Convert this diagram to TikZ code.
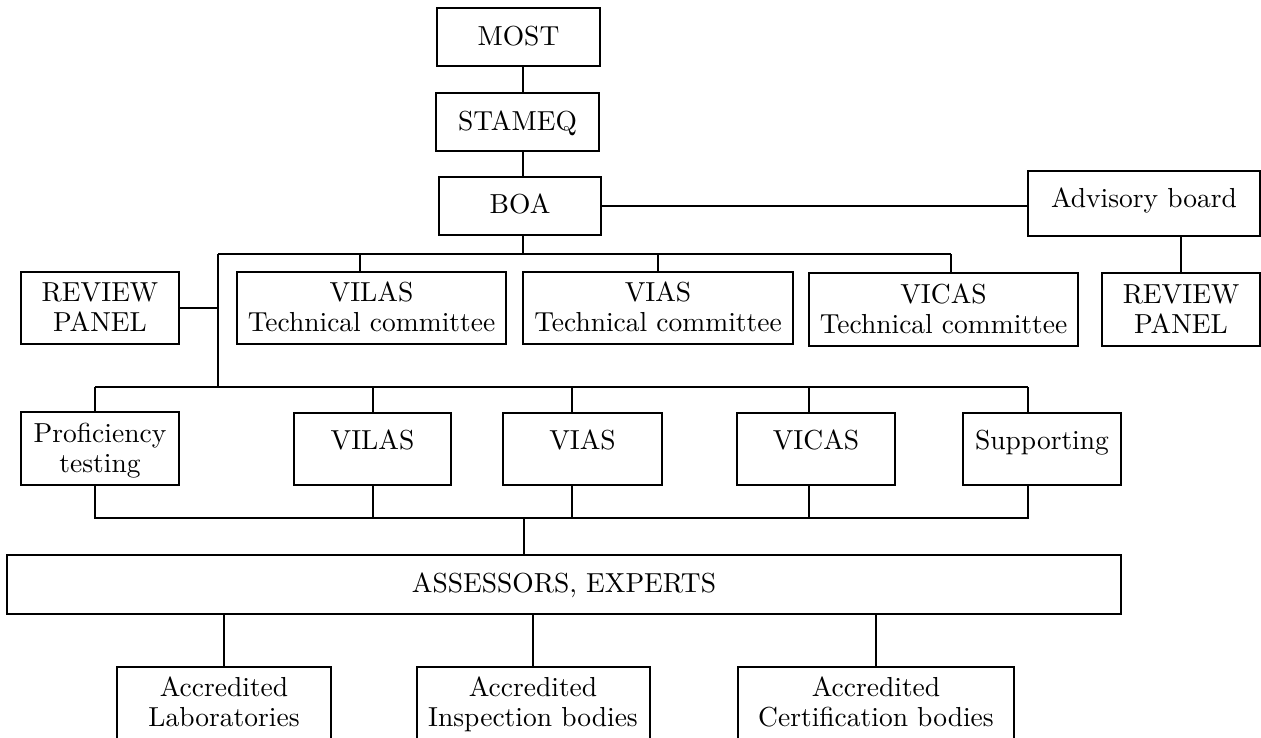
\documentclass[tikz,border=0pt]{standalone}
\usepackage{fontspec}
\setmainfont{lmroman10-regular}[Extension=.otf]
\newcommand\mystrut{\rule[-6.3pt]{0pt}{30pt}}
\newcommand\up[2]{\raisebox{#1}[0pt][0pt]{#2}\mystrut}
\tikzset{
  box/.style={draw, line width=2pt, inner sep=0pt, align=center,
              font=\fontsize{27.5}{30}\selectfont},
  conn/.style={line width=1.5pt},
}
\begin{document}
\begin{tikzpicture}[x=1pt,y=-1pt]
\useasboundingbox (0,0) rectangle (1261,737);
\clip (0,0) rectangle (1261,737);

% top chain
\node[box, minimum width=163pt, minimum height=58pt] (most) at (518.5,37) {\up{0pt}{MOST}};
\node[box, minimum width=163pt, minimum height=58pt] (stameq) at (517.5,122) {\up{0.7pt}{STAMEQ}};
\node[box, minimum width=162pt, minimum height=58pt] (boa) at (520,206) {\up{1.4pt}{BOA}};
\node[box, minimum width=232pt, minimum height=65pt] (adv) at (1144,203.5) {\up{5pt}{Advisory board}};

% row 2
\node[box, minimum width=158pt, minimum height=72pt] (rpl) at (100,308) {\mystrut REVIEW\\\mystrut PANEL};
\node[box, minimum width=269pt, minimum height=72pt] (vilastc) at (371.5,308) {\mystrut VILAS\\\mystrut Technical committee};
\node[box, minimum width=270pt, minimum height=72pt] (viastc) at (658,308) {\mystrut VIAS\\\mystrut Technical committee};
\node[box, minimum width=269pt, minimum height=73pt] (vicastc) at (943.5,309.5) {\mystrut VICAS\\\mystrut Technical committee};
\node[box, minimum width=158pt, minimum height=73pt] (rpr) at (1181,309.5) {\mystrut REVIEW\\\mystrut PANEL};

% row 3
\node[box, minimum width=158pt, minimum height=73pt] (prof) at (100,448.5) {\mystrut Proficiency\\\mystrut testing};
\node[box, minimum width=157pt, minimum height=72pt] (vilas) at (372.5,449) {\up{8pt}{VILAS}};
\node[box, minimum width=159pt, minimum height=72pt] (vias) at (582.5,449) {\up{8pt}{VIAS}};
\node[box, minimum width=158pt, minimum height=72pt] (vicas) at (816,449) {\up{8pt}{VICAS}};
\node[box, minimum width=158pt, minimum height=72pt] (supp) at (1042,449) {\up{8pt}{Supporting}};

% assessors
\node[box, minimum width=1114pt, minimum height=59pt] (assess) at (564,584.5) {\up{1.2pt}{ASSESSORS, EXPERTS}};

% bottom
\node[box, minimum width=214pt, minimum height=80pt] (lab) at (224,707) {\up{4.7pt}{Accredited}\\\up{4.7pt}{Laboratories}};
\node[box, minimum width=233pt, minimum height=80pt] (insp) at (533,707) {\up{4.7pt}{Accredited}\\\up{4.7pt}{Inspection bodies}};
\node[box, minimum width=276pt, minimum height=80pt] (cert) at (876,707) {\up{4.7pt}{Accredited}\\\up{4.7pt}{Certification bodies}};

% coordinates
\coordinate (cx) at (523,0);
\coordinate (t0) at (523,254);
\coordinate (tL) at (218,254);
\coordinate (tR) at (951,254);
\coordinate (d1) at (360,254);
\coordinate (d2) at (658,254);
\coordinate (m0) at (218,387);
\coordinate (mL) at (95,387);
\coordinate (mR) at (1028,387);
\coordinate (m1) at (373,387);
\coordinate (m2) at (572,387);
\coordinate (m3) at (809,387);
\coordinate (bL) at (95,518);
\coordinate (bR) at (1028,518);
\coordinate (b1) at (373,518);
\coordinate (b2) at (572,518);
\coordinate (b3) at (809,518);
\coordinate (bA) at (524,518);

% connectors
\draw[conn] (most.south -| cx) -- (stameq.north -| cx);
\draw[conn] (stameq.south -| cx) -- (boa.north -| cx);
\draw[conn] (boa.south -| t0) -- (t0);
\draw[conn] (boa.east) -- (boa.east -| adv.west);
\draw[conn] (rpr.north |- adv.south) -- (rpr.north);
\draw[conn] (tL) -- (tR);
\draw[conn] (d1) -- (d1 |- vilastc.north);
\draw[conn] (d2) -- (d2 |- viastc.north);
\draw[conn] (tR) -- (tR |- vicastc.north);
\draw[conn] (tL) -- (m0);
\draw[conn] (rpl.east) -- (rpl.east -| tL);
\draw[conn] (mL) -- (mR);
\draw[conn] (mL) -- (mL |- prof.north);
\draw[conn] (m1) -- (m1 |- vilas.north);
\draw[conn] (m2) -- (m2 |- vias.north);
\draw[conn] (m3) -- (m3 |- vicas.north);
\draw[conn] (mR) -- (mR |- supp.north);
\draw[conn] (prof.south -| bL) -- (bL) -- (bR) -- (supp.south -| bR);
\draw[conn] (vilas.south -| b1) -- (b1);
\draw[conn] (vias.south -| b2) -- (b2);
\draw[conn] (vicas.south -| b3) -- (b3);
\draw[conn] (bA) -- (bA |- assess.north);
\draw[conn] (assess.south -| lab.north) -- (lab.north);
\draw[conn] (assess.south -| insp.north) -- (insp.north);
\draw[conn] (assess.south -| cert.north) -- (cert.north);
\end{tikzpicture}
\end{document}
